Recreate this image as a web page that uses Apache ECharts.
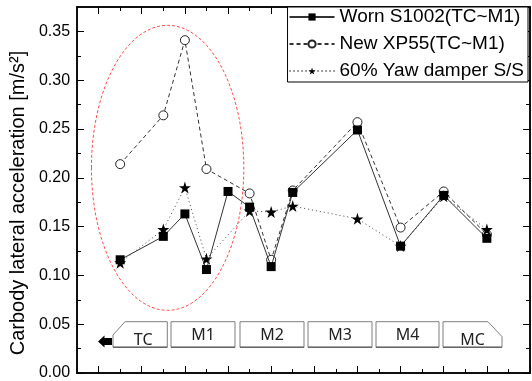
<!DOCTYPE html>
<html>
<head>
<meta charset="utf-8">
<script src="https://cdn.jsdelivr.net/npm/echarts@6.0.0/dist/echarts.min.js"></script>
<style>
html,body{margin:0;padding:0;background:#fff;}
#chart{width:532px;height:381px;}
</style>
</head>
<body>
<div id="chart"></div>
<script>
// ---- data ----
const wornX = [0.5, 1.5, 2, 2.5, 3, 3.5, 4, 4.5, 6, 7, 8, 9];
const wornY = [0.116, 0.140, 0.163, 0.106, 0.186, 0.170, 0.109, 0.185, 0.249, 0.130, 0.182, 0.138];
const newX = [0.5, 1.5, 2, 2.5, 3.5, 4, 4.5, 6, 7, 8, 9];
const newY = [0.214, 0.264, 0.341, 0.209, 0.184, 0.116, 0.187, 0.257, 0.149, 0.186, 0.142];
const yawX = [0.5, 1.5, 2, 2.5, 3.5, 4, 4.5, 6, 7, 8, 9];
const yawY = [0.113, 0.147, 0.190, 0.117, 0.166, 0.165, 0.171, 0.158, 0.130, 0.181, 0.147];
const seriesNames = ['Worn S1002(TC~M1)', 'New XP55(TC~M1)', '60% Yaw damper S/S'];
const xMajor = [0, 1, 2, 3, 4, 5, 6, 7, 8, 9, 10];
const xMinor = [0.5, 1.5, 2.5, 3.5, 4.5, 5.5, 6.5, 7.5, 8.5, 9.5];
const yMajor = [0, 0.05, 0.10, 0.15, 0.20, 0.25, 0.30, 0.35];
const yMinor = [0.025, 0.075, 0.125, 0.175, 0.225, 0.275, 0.325];
const cars = ['TC', 'M1', 'M2', 'M3', 'M4', 'MC'];

const pairs = (xs, ys) => xs.map((x, i) => [x, ys[i]]);
const starPath = 'path://M0,-1 L0.2245,-0.309 L0.951,-0.309 L0.363,0.118 L0.588,0.809 L0,0.382 L-0.588,0.809 L-0.363,0.118 L-0.951,-0.309 L-0.2245,-0.309 Z';
const FONT = 'Liberation Sans, Arial, sans-serif';

const chart = echarts.init(document.getElementById('chart'), null, {renderer: 'canvas'});

function xAx(pos, ticks, len) {
  return {
    type: 'value', position: pos, min: -0.5, max: 10,
    axisLine: {show: true, onZero: false, lineStyle: {color: '#000', width: 1.5}},
    axisTick: {show: true, inside: true, length: len, customValues: ticks, lineStyle: {color: '#000', width: 1}},
    axisLabel: {show: false}, splitLine: {show: false}
  };
}
function yAx(pos, ticks, len, labels) {
  const o = {
    type: 'value', position: pos, min: 0, max: 0.375,
    axisLine: {show: true, onZero: false, lineStyle: {color: '#000', width: 1.5}},
    axisTick: {show: true, inside: true, length: len, customValues: ticks, lineStyle: {color: '#000', width: 1}},
    axisLabel: {show: false}, splitLine: {show: false}
  };
  if (labels) {
    o.axisLabel = {show: true, customValues: yMajor, margin: 7, fontFamily: FONT, fontSize: 16, color: '#000',
      formatter: v => v.toFixed(2)};
    o.name = 'Carbody lateral acceleration [m/s²]';
    o.nameLocation = 'middle';
    o.nameGap = 42;
    o.nameTextStyle = {fontFamily: FONT, fontSize: 20, color: '#000', padding: [0, 26, 0, 0]};
  }
  return o;
}

const option = {
  animation: false,
  backgroundColor: '#fff',
  grid: {left: 75, right: 2, top: 7, bottom: 6, containLabel: false},
  xAxis: [xAx('bottom', xMajor, 7), xAx('bottom', xMinor, 4), xAx('top', xMajor, 7), xAx('top', xMinor, 4)],
  yAxis: [yAx('left', yMajor, 7, true), yAx('left', yMinor, 4), yAx('right', yMajor, 7), yAx('right', yMinor, 4)],
  legend: {
    orient: 'vertical', right: 4, top: 7,
    data: seriesNames,
    itemWidth: 45, itemHeight: 9, itemGap: 7,
    padding: [0, 4, 1, 1],
    borderColor: '#000', borderWidth: 1, backgroundColor: '#fff',
    textStyle: {fontFamily: FONT, fontSize: 19, color: '#000', lineHeight: 20},
    z: 10
  },
  series: [
    {
      name: seriesNames[1], type: 'line', z: 2, data: pairs(newX, newY),
      symbol: 'circle', symbolSize: 9,
      itemStyle: {color: '#fff', borderColor: '#222', borderWidth: 1},
      lineStyle: {color: '#333', width: 1, type: [4, 3]}
    },
    {
      name: seriesNames[2], type: 'line', z: 3, data: pairs(yawX, yawY),
      symbol: starPath, symbolSize: 12,
      itemStyle: {color: '#000', borderWidth: 0},
      lineStyle: {color: '#444', width: 1, type: [1, 3]}
    },
    {
      name: seriesNames[0], type: 'line', z: 4, data: pairs(wornX, wornY),
      symbol: 'rect', symbolSize: 9,
      itemStyle: {color: '#000', borderWidth: 0},
      lineStyle: {color: '#333', width: 1, type: 'solid'}
    }
  ]
};
chart.setOption(option);

// ---- annotations: ellipse (data coords) and train-car boxes ----
(function () {
  const c = chart.convertToPixel({xAxisIndex: 0, yAxisIndex: 0}, [1.6, 0.2102]);
  const e = chart.convertToPixel({xAxisIndex: 0, yAxisIndex: 0}, [1.6 + 1.766, 0.2102 - 0.146]);
  const gray = '#7f7f7f';
  const boxTop = 321.7, boxBot = 347.3;
  const boxX = [[113, 167.3], [171, 235], [240, 304], [308, 372], [376, 439], [443, 502]];
  const g = [
    {type: 'ellipse', shape: {cx: c[0], cy: c[1], rx: e[0] - c[0], ry: e[1] - c[1]},
     style: {fill: 'none', stroke: '#ff4d4d', lineWidth: 1, lineDash: [3, 2]}, z: 1},
    {type: 'polygon', shape: {points: [[98, 341.5], [104.5, 335.5], [104.5, 338], [112, 338], [112, 345], [104.5, 345], [104.5, 347.5]]},
     style: {fill: '#000'}, z: 5}
  ];
  boxX.forEach((b, i) => {
    let pts;
    if (i === 0) pts = [[b[0], 335], [b[0] + 12, boxTop], [b[1], boxTop], [b[1], boxBot], [b[0], boxBot]];
    else if (i === 5) pts = [[b[0], boxTop], [b[1] - 14, boxTop], [b[1], boxTop + 15], [b[1], boxBot], [b[0], boxBot]];
    else pts = [[b[0], boxTop], [b[1], boxTop], [b[1], boxBot], [b[0], boxBot]];
    g.push({type: 'polygon', shape: {points: pts}, style: {fill: '#fff', stroke: gray, lineWidth: 1}, z: 5});
    g.push({type: 'line', shape: {x1: b[0], y1: boxBot, x2: b[1], y2: boxBot}, style: {stroke: '#666', lineWidth: 1.6}, z: 5});
    const ty = (i === 0 || i === 5) ? 340 : 335;
    g.push({type: 'text', x: (b[0] + b[1]) / 2 + (i === 0 ? 3 : 0), y: ty,
      style: {text: cars[i], fill: '#222', font: '16px "Noto Sans", sans-serif', textAlign: 'center', textVerticalAlign: 'middle'}, z: 6});
  });
  chart.setOption({graphic: {elements: g}});
})();
</script>
</body>
</html>
